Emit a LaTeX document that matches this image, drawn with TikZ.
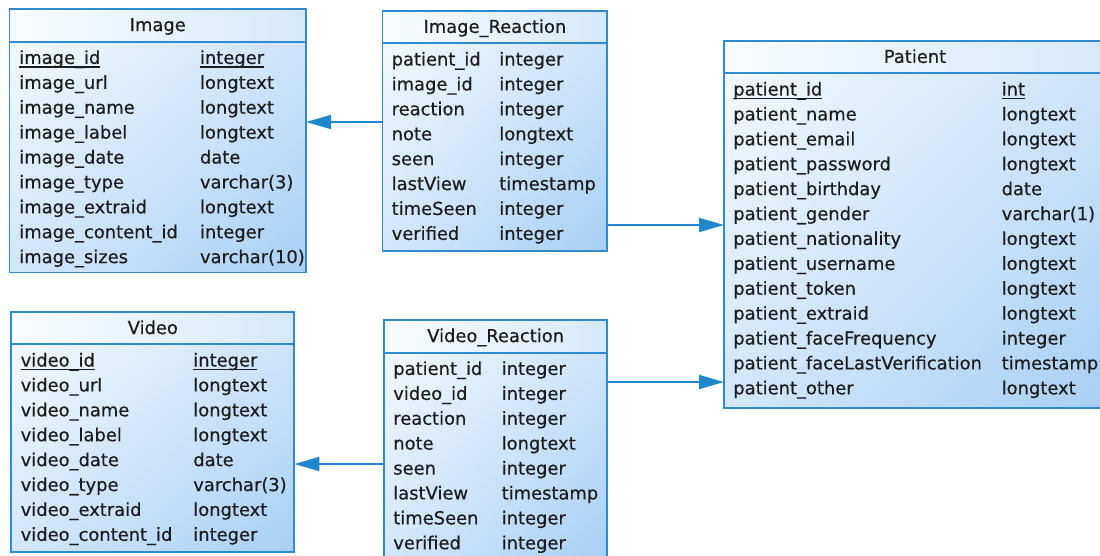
\documentclass[tikz,border=0pt]{standalone}
\usepackage{fontspec}
\setmainfont[FakeBold=0.4]{DejaVu Sans}
\usetikzlibrary{arrows.meta,shadings}

\definecolor{erdline}{HTML}{2E8BD0}
\definecolor{erdarrow}{HTML}{1E88CC}
\definecolor{erdtext}{HTML}{1C1C1C}
\definecolor{hdL}{HTML}{F9FCFF}
\definecolor{hdR}{HTML}{D6E9FB}
\definecolor{bdTL}{HTML}{F2F8FE}
\definecolor{bdTR}{HTML}{CDE4FA}
\definecolor{bdBL}{HTML}{D2E7FB}
\definecolor{bdBR}{HTML}{A8CFF4}

\tikzset{
  hdr/.style={draw=erdline, line width=1.8pt, inner sep=0pt, outer sep=0pt,
    anchor=north west, shade, upper left=hdL, lower left=hdL,
    upper right=hdR, lower right=hdR},
  bdy/.style={draw=erdline, line width=1.8pt, inner sep=0pt, outer sep=0pt,
    anchor=north west, shade, upper left=bdTL, upper right=bdTR,
    lower left=bdBL, lower right=bdBR},
  ttl/.style={inner sep=0pt, outer sep=0pt, anchor=mid, text=erdtext},
  fld/.style={inner sep=0pt, outer sep=0pt, anchor=mid west, text=erdtext},
  pkline/.style={draw=erdtext, line width=1.3pt},
  conn/.style={draw=erdarrow, line width=1.8pt,
    -{Triangle[length=25pt, width=14pt]}}
}

% table frame: id, left x, top y, width, header height, body height, title
\newcommand{\erdbox}[7]{%
  \node[hdr, minimum width=#4pt, minimum height=#5pt] (#1h) at (#2,#3) {};
  \node[ttl] (#1t) at ([yshift=-3pt]#1h.center) {#7};
  \node[bdy, minimum width=#4pt, minimum height=#6pt] (#1) at (#1h.south west) {};
}
% columns: id, name x, type x, header line y, first row index, list name/type
\newcommand{\erdrows}[6]{%
  \foreach \fn/\ft [count=\k from #5] in {#6} {
    \node[fld] (#1n\k) at (#2, {#4+19.5+24.9*\k}) {\fn};
    \node[fld] (#1t\k) at (#3, {#4+19.5+24.9*\k}) {\ft};
  }
}
% primary key row: id, name x, type x, header line y, name, type
\newcommand{\erdpk}[6]{%
  \node[fld] (#1n0) at (#2, {#4+19.5}) {#5};
  \node[fld] (#1t0) at (#3, {#4+19.5}) {#6};
  \draw[pkline] ([yshift=-3pt]#1n0.base west) -- ([yshift=-3pt]#1n0.base east);
  \draw[pkline] ([yshift=-3pt]#1t0.base west) -- ([yshift=-3pt]#1t0.base east);
}

\begin{document}
\begin{tikzpicture}[x=1pt, y=-1pt, font=\fontsize{17.9}{20}\selectfont]
\clip (0,0) rectangle (1100,555);
\fill[white] (0,0) rectangle (1100,555);

% Image
\erdbox{img}{9.5}{9}{296.5}{32.7}{230.8}{Image}
\erdpk{img}{19.3}{200}{41.7}{image\_id}{integer}
\erdrows{img}{19.3}{200}{41.7}{1}{image\_url/longtext, image\_name/longtext,
  image\_label/longtext, image\_date/date, image\_type/varchar(3),
  image\_extraid/longtext, image\_content\_id/integer, image\_sizes/varchar(10)}

% Image_Reaction
\erdbox{ir}{382.5}{11}{224.8}{32.3}{207.4}{Image\_Reaction}
\erdrows{ir}{391.7}{499.3}{43.3}{0}{patient\_id/integer, image\_id/integer,
  reaction/integer, note/longtext, seen/integer, lastView/timestamp,
  timeSeen/integer, verified/integer}

% Patient
\erdbox{pat}{724}{41}{382}{32.3}{334.7}{Patient}
\erdpk{pat}{733.3}{1001.7}{73.3}{patient\_id}{int}
\erdrows{pat}{733.3}{1001.7}{73.3}{1}{patient\_name/longtext,
  patient\_email/longtext, patient\_password/longtext, patient\_birthday/date,
  patient\_gender/varchar(1), patient\_nationality/longtext,
  patient\_username/longtext, patient\_token/longtext, patient\_extraid/longtext,
  patient\_faceFrequency/integer, patient\_faceLastVerification/timestamp,
  patient\_other/longtext}

% Video
\erdbox{vid}{11.3}{312.3}{283}{32}{208}{Video}
\erdpk{vid}{20.7}{193.3}{344.3}{video\_id}{integer}
\erdrows{vid}{20.7}{193.3}{344.3}{1}{video\_url/longtext, video\_name/longtext,
  video\_label/longtext, video\_date/date, video\_type/varchar(3),
  video\_extraid/longtext, video\_content\_id/integer}

% Video_Reaction
\erdbox{vr}{384}{320}{223.3}{32.7}{207}{Video\_Reaction}
\erdrows{vr}{393.3}{501.7}{352.7}{0}{patient\_id/integer, video\_id/integer,
  reaction/integer, note/longtext, seen/integer, lastView/timestamp,
  timeSeen/integer, verified/integer}

% relationships
\coordinate (r1) at (0,122);
\coordinate (r2) at (0,225);
\coordinate (r3) at (0,382);
\coordinate (r4) at (0,464);
\draw[conn] (ir.west |- r1) -- (img.east |- r1);
\draw[conn] (ir.east |- r2) -- (pat.west |- r2);
\draw[conn] (vr.east |- r3) -- (pat.west |- r3);
\draw[conn] (vr.west |- r4) -- (vid.east |- r4);
\end{tikzpicture}
\end{document}
